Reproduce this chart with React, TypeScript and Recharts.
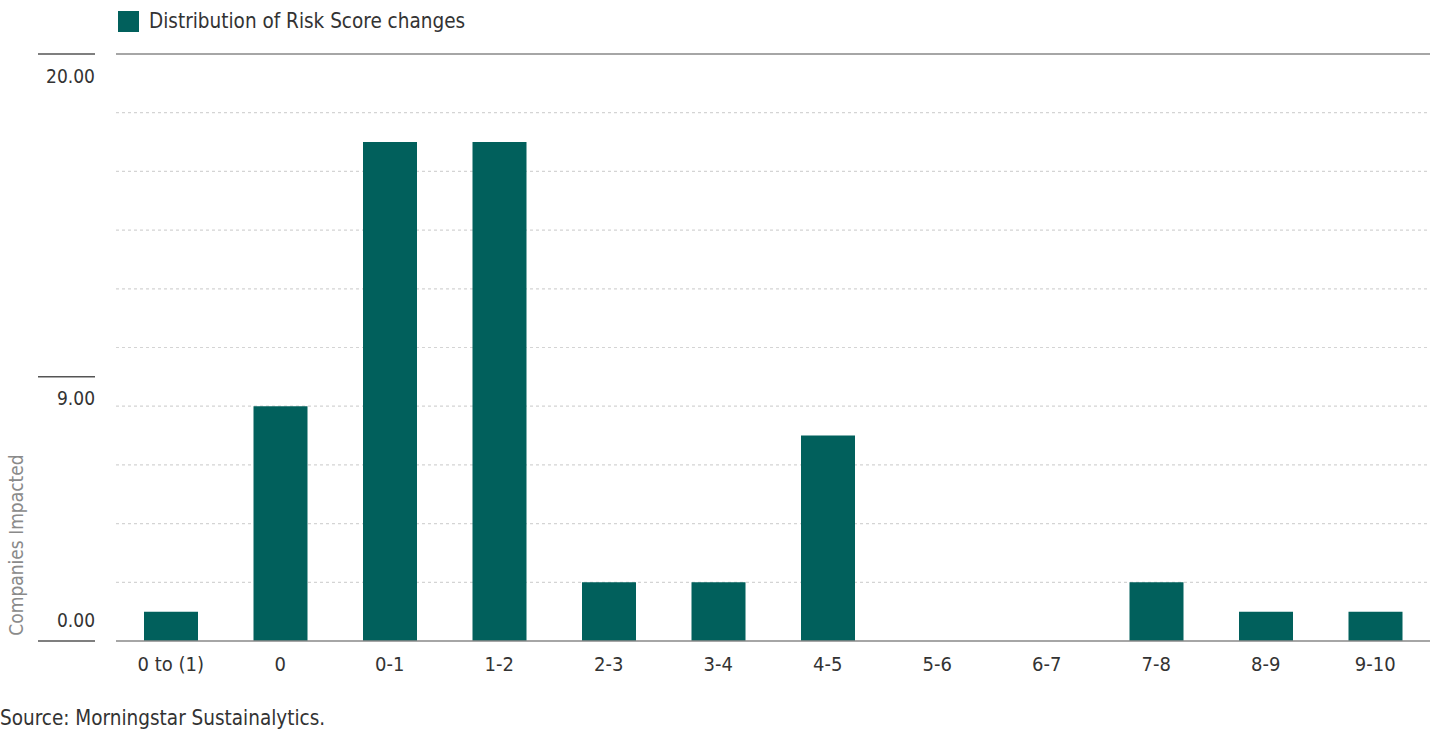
import React from "react";
import { BarChart, Bar, XAxis, YAxis, CartesianGrid, ReferenceLine } from "recharts";

const categories = ["0 to (1)", "0", "0-1", "1-2", "2-3", "3-4", "4-5", "5-6", "6-7", "7-8", "8-9", "9-10"];
const companies = [1, 8, 17, 17, 2, 2, 7, 0, 0, 2, 1, 1];
const yTicks = [0, 9, 20];
const gridValues = [2, 4, 6, 8, 10, 12, 14, 16, 18];

const seriesName = "Distribution of Risk Score changes";
const yLabel = "Companies Impacted";
const sourceText = "Source: Morningstar Sustainalytics.";

const data = categories.map((c, i) => ({ category: c, value: companies[i] }));

const FONT = '"DejaVu Sans Condensed", "Liberation Sans Narrow", Roboto, sans-serif';
const BAR = "#01605C";

const YTick = (props: any) => {
  const { y, payload } = props;
  const below = payload.value !== 0;
  return (
    <g>
      <line x1={38} x2={95} y1={y} y2={y} stroke="#555" strokeWidth={1.5} />
      <text
        x={95}
        y={below ? y + 23 : y - 20}
        textAnchor="end"
        dominantBaseline="middle"
        fill="#333"
        fontSize={19}
        fontFamily={FONT}
      >
        {payload.value.toFixed(2)}
      </text>
    </g>
  );
};

const XTick = (props: any) => {
  const { x, y, payload } = props;
  return (
    <text x={x} y={y + 16} textAnchor="middle" dominantBaseline="middle" fill="#333" fontSize={20} fontFamily={FONT}>
      {payload.value}
    </text>
  );
};

export default function App() {
  return (
    <div style={{ position: "absolute", left: 0, top: 0, width: 1430, height: 733, background: "#fff", fontFamily: FONT, overflow: "hidden" }}>
      <div style={{ position: "absolute", left: 118, top: 11, display: "flex", alignItems: "center" }}>
        <div style={{ width: 21, height: 21, background: BAR }} />
        <span style={{ marginLeft: 10, fontSize: 20.5, color: "#333", lineHeight: "21px" }}>{seriesName}</span>
      </div>
      <div style={{ position: "absolute", left: 0, top: 0 }}>
        <BarChart width={1430} height={690} data={data} margin={{ top: 54, right: 0, bottom: 9, left: 0 }}>
          <CartesianGrid vertical={false} horizontalValues={gridValues} stroke="#d4d4d4" strokeWidth={1.2} strokeDasharray="3 3" />
          <ReferenceLine y={20} stroke="#888" strokeWidth={1.5} />
          <XAxis
            dataKey="category"
            height={40}
            axisLine={{ stroke: "#888", strokeWidth: 1.5 }}
            tickLine={false}
            tick={<XTick />}
            interval={0}
          />
          <YAxis
            width={116}
            domain={[0, 20]}
            ticks={yTicks}
            axisLine={false}
            tickLine={false}
            tick={<YTick />}
            label={{
              content: () => (
                <text
                  x={17}
                  y={545}
                  transform="rotate(-90 17 545)"
                  textAnchor="middle"
                  dominantBaseline="middle"
                  fill="#8a8a8a"
                  fontSize={19}
                  fontFamily={FONT}
                >
                  {yLabel}
                </text>
              ),
            }}
          />
          <Bar dataKey="value" name={seriesName} fill={BAR} barSize={54} isAnimationActive={false} />
        </BarChart>
      </div>
      <div style={{ position: "absolute", left: 0, top: 706, fontSize: 20.5, color: "#333", whiteSpace: "nowrap" }}>{sourceText}</div>
    </div>
  );
}
